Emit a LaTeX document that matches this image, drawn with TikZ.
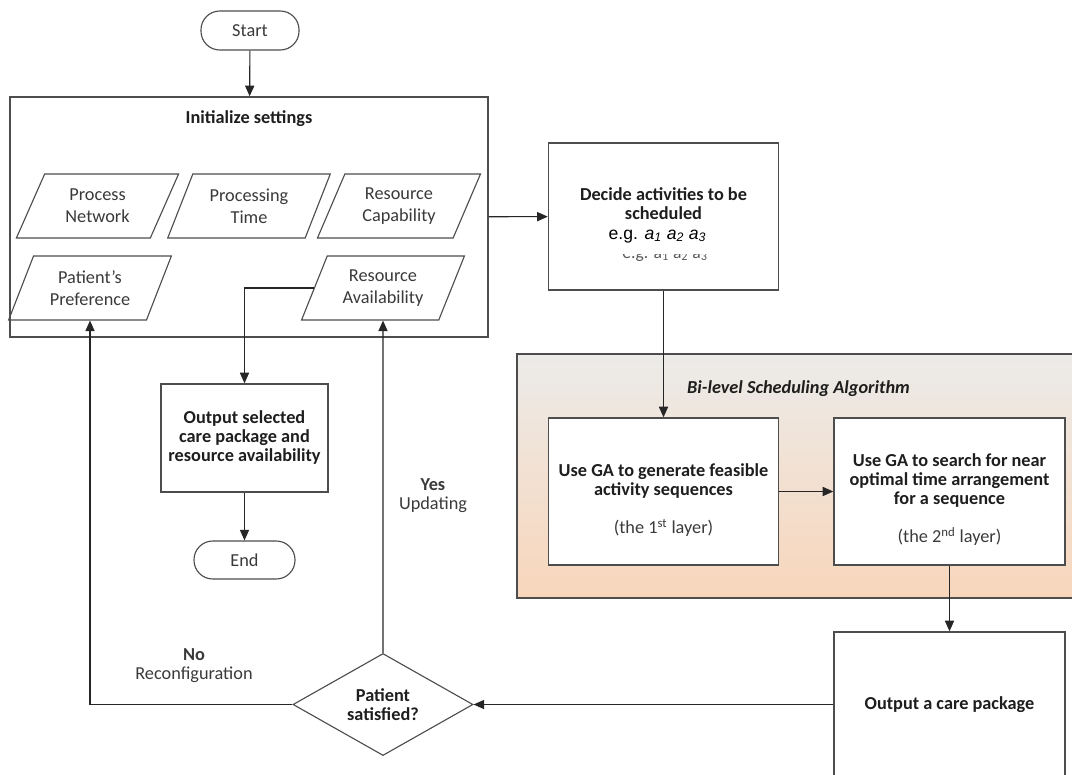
\documentclass[tikz,border=0pt]{standalone}
\usepackage{fontspec}
\setmainfont{Carlito}
\newfontfamily\arialfont{Liberation Sans}
\usetikzlibrary{shapes.geometric,arrows.meta}
\definecolor{edge}{HTML}{4D4D4D}
\definecolor{ink}{HTML}{1E1E1E}
\definecolor{soft}{HTML}{3A3A3A}
\definecolor{bitop}{HTML}{ECEBE9}
\definecolor{bibot}{HTML}{F8D6BB}
\newcommand\diagfont{\fontsize{13}{13.5}\selectfont}
\begin{document}
\begin{tikzpicture}[
            x=0.025cm, y=-0.025cm,
            box/.style={
              draw=edge, line width=1pt, fill=white,
              align=center, inner sep=0pt, text=ink,
              font=\diagfont\bfseries
            },
            boxtxt/.style={
              align=center, text=ink,
              font=\diagfont\bfseries
            },
            term/.style={
              draw=edge, line width=0.8pt, fill=white,
              rounded corners=0.47cm, inner sep=0pt,
              text=soft, font=\diagfont
            },
            data/.style={
              trapezium, trapezium stretches=true,
              trapezium left angle=63, trapezium right angle=117,
              draw=edge, line width=0.8pt,
              minimum width=4.08cm, minimum height=1.6cm,
              inner sep=0pt, align=center, text=soft,
              font=\fontsize{13}{15.5}\selectfont
            },
            decision/.style={
              diamond, shape aspect=1.76, draw=edge, line width=0.8pt,
              minimum width=4.5cm, minimum height=2.55cm,
              inner sep=0pt, align=center, text=ink,
              font=\diagfont\bfseries
            },
            lbl/.style={
              align=center, text=soft, font=\diagfont
            },
            flow/.style={
              -{Triangle[length=7.5pt,width=6.5pt]},
              line width=0.8pt, draw=black!85
            }
        ]
\clip (0,0) rectangle (1072,775);

% bi-level frame
\node[draw=edge, line width=1pt, top color=bitop, bottom color=bibot,
      minimum width=14.075cm, minimum height=6.1cm, inner sep=0pt] (bilevel) at (798.5,476) {};
\node[boxtxt, font=\diagfont\bfseries\itshape] (bititle) at (798.5,389) {Bi-level Scheduling Algorithm};

\node[term, minimum width=2.45cm, minimum height=0.975cm] (start) at (250,30.5) {Start};

\node[box, minimum width=11.95cm, minimum height=6cm] (init) at (249,217) {};
\node[boxtxt] (inittitle) at (249,119) {Initialize settings};

\foreach \n/\x/\y/\t in {pnet/97.5/206/Process\\Network, ptime/249/206/Processing\\Time,
    rcap/399/206/Resource\\Capability, pref/90/288/Patient’s\\Preference,
    ravail/383/288/Resource\\Availability}
    \node[data] (\n) at (\x,\y) {\t};

\node[box, minimum width=5.75cm, minimum height=3.675cm] (decide) at (663.5,216.5) {};
\node[boxtxt] (decidetxt) at (663.5,203.5) {Decide activities to be\\scheduled};
\node[anchor=base, inner sep=0pt, text=black, font=\arialfont\fontsize{12.5}{14}\selectfont] (eg) at (657.5,239)
    {e.g. \textit{a}\textsubscript{\textit{1}} \textit{a}\textsubscript{\textit{2}} \textit{a}\textsubscript{\textit{3}}};
\begin{scope}
\clip (600,254) rectangle (730,266);
\node[anchor=base, inner sep=0pt, text=black!65, font=\fontsize{12.5}{14}\selectfont] (ghost) at (665,258)
    {e.g. a\textsubscript{1} a\textsubscript{2} a\textsubscript{3}};
\end{scope}

\node[box, minimum width=5.75cm, minimum height=3.675cm] (gen) at (663.5,491.5) {};
\node[boxtxt] (gentxt) at (663.5,500) {Use GA to generate feasible\\activity sequences\\[13.5pt]
    \mdseries\color{soft}(the 1\textsuperscript{st} layer)};

\node[box, minimum width=5.775cm, minimum height=3.675cm] (search) at (949.5,491.5) {};
\node[boxtxt] (searchtxt) at (949.5,500) {Use GA to search for near\\optimal time arrangement\\for a sequence\\[13.5pt]
    \mdseries\color{soft}(the 2\textsuperscript{nd} layer)};

\node[box, minimum width=5.775cm, minimum height=3.625cm] (care) at (949.5,704.5) {Output a care package};

\node[decision] (sat) at (383,704.5) {Patient\\satisfied?};

\node[box, minimum width=4.175cm, minimum height=2.7cm] (outsel) at (244.5,438)
    {Output selected\\care package and\\resource availability};
\node[term, minimum width=2.525cm, minimum height=0.95cm] (stop) at (244.5,560) {End};

\node[lbl] (yeslbl) at (433,495.5) {\textbf{Yes}\\Updating};
\node[lbl] (nolbl) at (194,665.5) {\textbf{No}\\Reconfiguration};

\draw[flow] (start) -- (init);
\draw[flow] (init) -- (decide);
\draw[flow] (decide) -- (gen);
\draw[flow] (gen) -- (search);
\draw[flow] (search) -- (care);
\draw[flow] (care) -- (sat);
\draw[flow] (sat.north) -- (ravail.south);
\draw[flow] (sat.west) -| (pref.south);
\draw[flow] (ravail.west) -| (outsel.north);
\draw[flow] (outsel) -- (stop);

\end{tikzpicture}
\end{document}
